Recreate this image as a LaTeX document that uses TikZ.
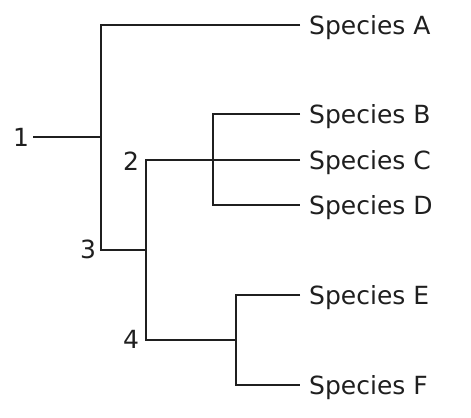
\documentclass[tikz,border=0pt]{standalone}
\usepackage{fontspec}
\setmainfont{DejaVu Sans}
\begin{document}
\begin{tikzpicture}[x=1bp,y=-1bp,
  branch/.style={line width=2.9bp, draw=black!88},
  leaf/.style={font=\fontsize{25bp}{29bp}\selectfont, anchor=west, inner xsep=9bp, inner ysep=0pt, text height=18.5bp, text depth=0pt, text=black!88},
  num/.style={font=\fontsize{25bp}{29bp}\selectfont, inner xsep=4bp, inner ysep=0pt, text height=18.5bp, text depth=0pt, text=black!88}]
\useasboundingbox (0,0) rectangle (471,417);
% internal points
\coordinate (r) at (101,137);
\coordinate (rb) at (101,250);
\coordinate (n3) at (146,250);
\coordinate (n2) at (146,160);
\coordinate (n4) at (146,340);
\coordinate (bdb) at (213,205);
\coordinate (ef) at (236,340);
\coordinate (efb) at (236,385);
% leaves
\node[leaf] (A) at (300,25) {Species A};
\node[leaf] (B) at (300,114) {Species B};
\node[leaf] (C) at (300,160) {Species C};
\node[leaf] (D) at (300,205) {Species D};
\node[leaf] (E) at (300,295) {Species E};
\node[leaf] (F) at (300,385) {Species F};
% numbers
\node[num] (l1) at (21,137) {1};
\node[num] (l2) at (131,161) {2};
\node[num] (l3) at (88,249) {3};
\node[num] (l4) at (131,339) {4};
% branches
\draw[branch] (l1) -- (r);
\draw[branch] (A.west) -| (rb) -- (n3);
\draw[branch] (C.west) -- (n2) -- (n4) -- (ef);
\draw[branch] (B.west) -| (bdb) -- (D.west);
\draw[branch] (E.west) -| (efb) -- (F.west);
\end{tikzpicture}
\end{document}
